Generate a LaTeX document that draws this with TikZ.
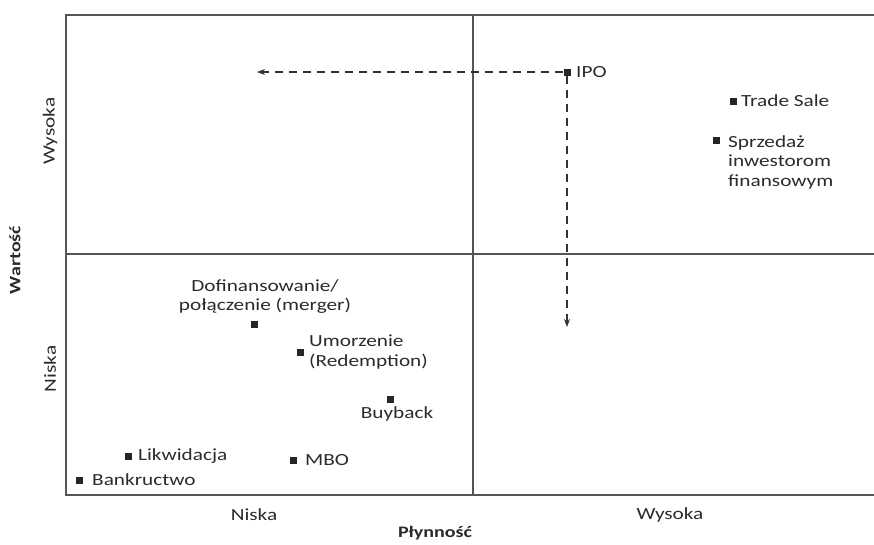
\documentclass[tikz,border=0pt]{standalone}
\usepackage{fontspec}
\setmainfont{Carlito}[FakeStretch=1.25]
\usetikzlibrary{arrows.meta}
\definecolor{ink}{HTML}{2B2B2B}
\definecolor{frame}{HTML}{555555}
\begin{document}
\begin{tikzpicture}[x=1pt,y=-1pt,
  every node/.style={text=ink,font=\fontsize{17}{19.5}\selectfont,inner sep=0pt},
  mk/.style={fill=black!85,minimum size=7pt,inner sep=0pt,draw=none},
  lbl/.style={anchor=west,align=left},
  axis/.style={draw=frame,line width=1.2pt},
  flow/.style={draw=black!80,line width=1.1pt,dash pattern=on 8pt off 6pt,-{Stealth[length=8pt,width=6pt]}}]
\useasboundingbox (0,0) rectangle (874,544);
\fill[white] (0,0) rectangle (874,544);
% frame
\draw[axis] (874,15) -- (66,15) -- (66,495) -- (874,495);
\draw[axis] (473,15) -- (473,495);
\draw[axis] (66,254) -- (874,254);
% axis labels
\node[rotate=90] (wy) at (50,131) {Wysoka};
\node[rotate=90] (ni) at (50,369) {Niska};
\node[rotate=90,font=\fontsize{16}{18}\selectfont\bfseries] (wart) at (15,260) {Wartość};
\node (nb) at (254,515) {Niska};
\node (wb) at (670,515) {Wysoka};
\node[font=\fontsize{16}{18}\selectfont\bfseries] (ply) at (435,533) {Płynność};
% markers
\node[mk] (ipo) at (567,72) {};
\node[lbl] (ipot) at (576,72) {IPO};
\node[mk] (ts) at (733,101) {};
\node[lbl] (tst) at (741,101) {Trade Sale};
\node[mk] (sp) at (716,140) {};
\node[lbl,anchor=north west] (spt) at (728,135) {Sprzedaż\\inwestorom\\finansowym};
\node[mk] (dof) at (254,324) {};
\node[align=center,anchor=south] (doft) at (265,314) {Dofinansowanie/\\połączenie (merger)};
\node[mk] (um) at (300,352) {};
\node[lbl,anchor=west] (umt) at (309,352) {Umorzenie\\(Redemption)};
\node[mk] (bb) at (390,399) {};
\node[anchor=north] (bbt) at (397,406) {Buyback};
\node[mk] (lk) at (128,456) {};
\node[lbl] (lkt) at (138,456) {Likwidacja};
\node[mk] (mbo) at (293,460) {};
\node[lbl] (mbot) at (305,460) {MBO};
\node[mk] (bk) at (79,480) {};
\node[lbl] (bkt) at (92,480) {Bankructwo};
% arrows
\coordinate (lend) at (257,72);
\coordinate (dend) at (567,327);
\draw[flow] (ipo.west) -- (lend);
\draw[flow] (ipo.south) -- (dend);
\end{tikzpicture}
\end{document}
